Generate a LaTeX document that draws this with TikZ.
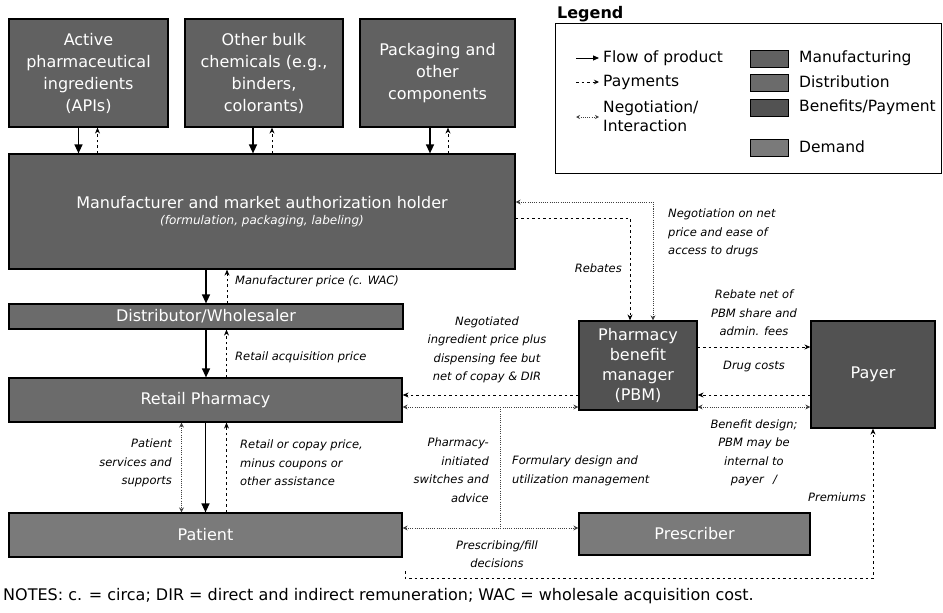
\documentclass[tikz,border=0pt]{standalone}
\usepackage{fontspec}
\setmainfont{DejaVu Sans}
\usetikzlibrary{arrows.meta,calc}
\begin{document}
\begin{tikzpicture}[x=1pt,y=-1pt,
  box/.style={draw=black,line width=1.2pt,text=white,align=center,inner sep=0pt,font=\fontsize{16}{22}\selectfont},
  mfg/.style={box,fill=black!62},
  dist/.style={box,fill=black!58},
  ben/.style={box,fill=black!68},
  dem/.style={box,fill=black!52},
  swatch/.style={line width=0.8pt,minimum width=38pt,minimum height=17pt,text=white},
  lbl/.style={font=\fontsize{11.5}{18.5}\selectfont\itshape,align=center,inner sep=0pt},
  legtext/.style={font=\fontsize{15.5}{19}\selectfont,align=left,inner sep=0pt,anchor=west},
  flowarrow/.style={line width=1.3pt,-{Triangle[length=9pt,width=8pt]}},
  payarrow/.style={line width=0.9pt,dash pattern=on 2.5pt off 3pt,-{Stealth[length=6pt,width=5pt]}},
  negline/.style={line width=0.8pt,black!75,dash pattern=on 1pt off 1.2pt},
  negarrow/.style={negline,{Stealth[open,length=5pt,width=5pt]}-{Stealth[open,length=5pt,width=5pt]}},
]
\useasboundingbox (0,0) rectangle (943,613);

% ---------- boxes ----------
\node[mfg,minimum width=159pt,minimum height=108pt] (api) at (88.5,73) {Active\\pharmaceutical\\ingredients\\(APIs)};
\node[mfg,minimum width=158pt,minimum height=108pt] (oth) at (264,73) {Other bulk\\chemicals (e.g.,\\binders,\\colorants)};
\node[mfg,minimum width=155pt,minimum height=108pt] (pkg) at (437.5,73) {Packaging and\\other\\components};
\node[mfg,minimum width=506pt,minimum height=115pt] (mfr) at (262,211.5) {Manufacturer and market authorization holder\\[-6pt]{\fontsize{12}{14}\selectfont\itshape (formulation, packaging, labeling)}};
\node[dist,minimum width=394pt,minimum height=25pt] (dist) at (206,316.5) {Distributor/Wholesaler};
\node[dist,minimum width=393pt,minimum height=44pt] (retail) at (205.5,400) {Retail Pharmacy};
\node[dem,minimum width=393pt,minimum height=44pt] (patient) at (205.5,535) {Patient};
\node[ben,minimum width=118pt,minimum height=89pt,font=\fontsize{16}{20}\selectfont] (pbm) at (638,365.5) {Pharmacy\\benefit\\manager\\(PBM)};
\node[ben,minimum width=124pt,minimum height=107pt] (payer) at (873,374.5) {Payer};
\node[dem,minimum width=231pt,minimum height=42pt] (pres) at (694.5,534) {Prescriber};

% ---------- legend ----------
\node[anchor=west,inner sep=0pt,font=\bfseries\fontsize{16}{18}\selectfont] (legtitle) at (557,14) {Legend};
\node[draw,line width=0.9pt,minimum width=386pt,minimum height=150pt,inner sep=0pt] (legbox) at (748,98) {};
\coordinate (lfa) at (576,58); \coordinate (lfb) at (599,58);
\coordinate (lpa) at (576,82); \coordinate (lpb) at (599,82);
\coordinate (lna) at (576,117); \coordinate (lnb) at (599,117);
\draw[flowarrow,line width=1pt,-{Triangle[length=6pt,width=5pt]}] (lfa) -- (lfb);
\draw[payarrow,-{Stealth[length=5pt,width=4.5pt]}] (lpa) -- (lpb);
\draw[negarrow,{Stealth[open,length=4pt,width=4pt]}-{Stealth[open,length=4pt,width=4pt]}] (lna) -- (lnb);
\node[legtext] (lt1) at (603,58) {Flow of product};
\node[legtext] (lt2) at (603,82) {Payments};
\node[legtext] (lt3) at (603,116) {Negotiation/\\Interaction};
\node[swatch,draw,fill=black!62] (sw1) at (769,58.5) {};
\node[swatch,draw,fill=black!58] (sw2) at (769,82.5) {};
\node[swatch,draw,fill=black!68] (sw3) at (769,107.5) {};
\node[swatch,draw,fill=black!52] (sw4) at (769,147.5) {};
\node[legtext] (lt4) at (799,58) {Manufacturing};
\node[legtext] (lt5) at (799,82) {Distribution};
\node[legtext] (lt6) at (799,107) {Benefits/Payment};
\node[legtext] (lt7) at (799,147) {Demand};

% ---------- top inputs -> manufacturer ----------
\draw[flowarrow] ([xshift=-10pt]api.south) -- ([xshift=-10pt]api.south |- mfr.north);
\draw[payarrow] ([xshift=9pt]api.south |- mfr.north) -- ([xshift=9pt]api.south);
\draw[flowarrow] ([xshift=-11pt]oth.south) -- ([xshift=-11pt]oth.south |- mfr.north);
\draw[payarrow] ([xshift=8pt]oth.south |- mfr.north) -- ([xshift=8pt]oth.south);
\draw[flowarrow] ([xshift=-7.5pt]pkg.south) -- ([xshift=-7.5pt]pkg.south |- mfr.north);
\draw[payarrow] ([xshift=10.5pt]pkg.south |- mfr.north) -- ([xshift=10.5pt]pkg.south);

% ---------- supply chain ----------
\draw[flowarrow] (dist.north |- mfr.south) -- (dist.north);
\draw[payarrow] ([xshift=21pt]dist.north) -- ([xshift=21pt]dist.north |- mfr.south);
\node[lbl,anchor=west] (lwac) at (235,281) {Manufacturer price (c. WAC)};
\draw[flowarrow] (dist.south) -- (dist.south |- retail.north);
\draw[payarrow] ([xshift=21pt]retail.north) -- ([xshift=21pt]retail.north |- dist.south);
\node[lbl,anchor=west] (lrap) at (235,357) {Retail acquisition price};
\draw[flowarrow] (retail.south) -- (patient.north);
\draw[payarrow] ([xshift=21pt]patient.north) -- ([xshift=21pt]retail.south);
\draw[negarrow] ([xshift=-24pt]retail.south) -- ([xshift=-24pt]patient.north);
\node[lbl,anchor=east,align=right] (lpss) at (172,463) {Patient\\services and\\supports};
\node[lbl,anchor=west,align=left] (lrcp) at (240,463) {Retail or copay price,\\minus coupons or\\other assistance};

% ---------- manufacturer <-> PBM ----------
\coordinate (negc) at (653,202);
\coordinate (rebc) at (630,218);
\draw[negarrow] (mfr.east |- negc) -- (negc) -- (pbm.north -| negc);
\draw[payarrow] (mfr.east |- rebc) -- (rebc) -- (pbm.north -| rebc);
\node[lbl,anchor=east] (lreb) at (622,268) {Rebates};
\node[lbl,anchor=west,align=left] (lneg) at (668,233) {Negotiation on net\\price and ease of\\access to drugs};

% ---------- PBM <-> payer ----------
\coordinate (r1) at (0,347);
\coordinate (r2) at (0,395);
\coordinate (r3) at (0,407);
\draw[payarrow] (pbm.east |- r1) -- (payer.west |- r1);
\draw[payarrow] (payer.west |- r2) -- (pbm.east |- r2);
\draw[negarrow] (pbm.east |- r3) -- (payer.west |- r3);
\node[lbl] (lrnet) at (754,313) {Rebate net of\\PBM share and\\admin. fees};
\node[lbl] (ldc) at (754,367) {Drug costs};
\node[lbl] (lbd) at (754,453) {Benefit design;\\PBM may be\\internal to\\payer \enspace/};

% ---------- PBM <-> retail ----------
\draw[payarrow] (pbm.west |- r2) -- (retail.east |- r2);
\draw[negarrow] (retail.east |- r3) -- (pbm.west |- r3);
\node[lbl] (lnip) at (487,350) {Negotiated\\ingredient price plus\\dispensing fee but\\net of copay \& DIR};
\coordinate (tj) at (500,407);
\coordinate (tb) at (500,528);
\draw[negline] (tj) -- (tb);
\draw[negarrow] (patient.east |- tb) -- (pres.west |- tb);
\node[lbl,anchor=east,align=right] (lpis) at (489,470) {Pharmacy-\\initiated\\switches and\\advice};
\node[lbl,anchor=west,align=left] (lfd) at (512,471) {Formulary design and\\utilization management};
\node[lbl] (lpf) at (497,554) {Prescribing/fill\\decisions};

% ---------- premiums ----------
\coordinate (prs) at (405,571);
\coordinate (prc) at (873,578);
\draw[payarrow] (prs) |- (prc) -- (payer.south);
\node[lbl,anchor=east] (lprem) at (866,497) {Premiums};

% ---------- notes ----------
\node[anchor=west,inner sep=0pt,font=\fontsize{16}{18}\selectfont] (notes) at (3,596) {NOTES: c. = circa; DIR = direct and indirect remuneration; WAC = wholesale acquisition cost.};
\end{tikzpicture}
\end{document}
